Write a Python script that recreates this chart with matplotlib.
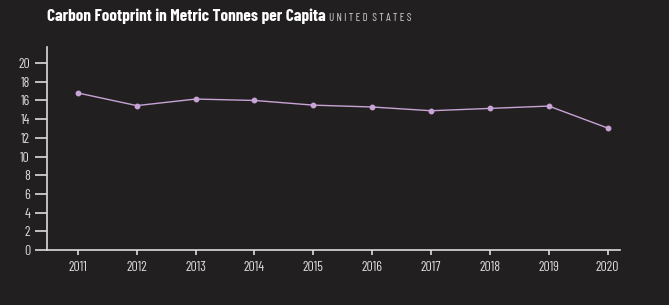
import matplotlib
matplotlib.use("Agg")
import matplotlib.pyplot as plt

# === Data === #
years = [2011, 2012, 2013, 2014, 2015, 2016, 2017, 2018, 2019, 2020]
tonnes = [16.8, 15.45, 16.15, 16.0, 15.5, 15.3, 14.9, 15.15, 15.4, 13.05]
y_ticks = list(range(0, 21, 2))

# === Style === #
BG = '#221f20'
FG = '#dcdcdc'
LINE = '#c7a3d6'
FONT = 'Barlow Condensed'
plt.rcParams['font.family'] = [FONT, 'DejaVu Sans']

fig = plt.figure(figsize=(6.69, 3.05), dpi=100, facecolor=BG)
ax = fig.add_axes([0.0698, 0.1803, 0.857, 0.665])
ax.set_facecolor(BG)

ax.plot(years, tonnes, color=LINE, lw=1, marker='o', ms=3.2, mec=LINE, mfc=LINE)

ax.set_xlim(2010.47, 2020.21)
ax.set_ylim(0, 21.7)
ax.set_xticks(years)
ax.set_yticks(y_ticks)
ax.tick_params(axis='y', length=8.4, width=1.2, color=FG, labelcolor=FG, labelsize=10, pad=3.6)
ax.tick_params(axis='x', length=3.6, width=1.2, color=FG, labelcolor=FG, labelsize=10, pad=4.5)

for s in ['top', 'right']:
    ax.spines[s].set_visible(False)
for s in ['left', 'bottom']:
    ax.spines[s].set_color(FG)
    ax.spines[s].set_linewidth(1.2)

# === Title === #
t = fig.text(0.0703, 0.931, "Carbon Footprint in Metric Tonnes per Capita",
             color='white', fontsize=12.4, fontweight='bold', va='baseline')
fig.canvas.draw()
bb = t.get_window_extent()
fig.text(bb.x1 / fig.bbox.width + 0.005, 0.931, "U N I T E D  S T A T E S",
         color='#d0d0d0', fontsize=8, va='baseline')

fig.savefig("out.png", dpi=100, facecolor=BG)
